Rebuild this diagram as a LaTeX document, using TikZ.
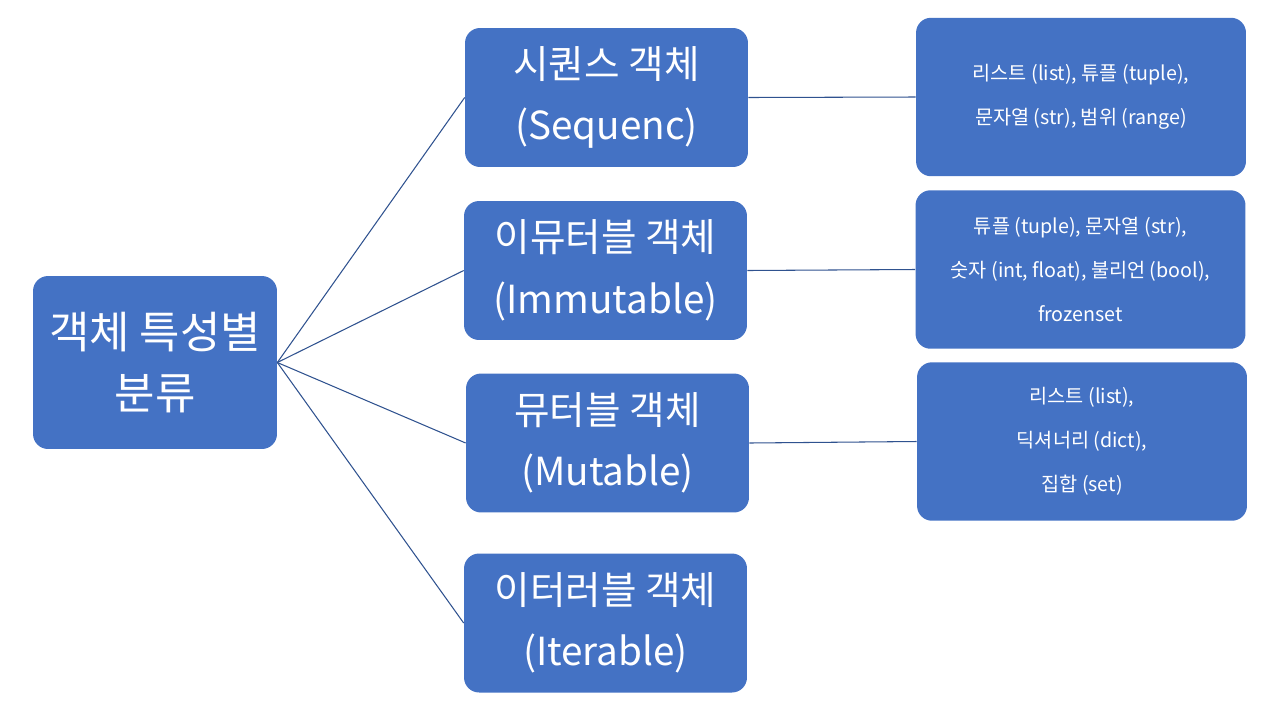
\documentclass[tikz,border=0pt]{standalone}
\usepackage{fontspec}
\setmainfont{Noto Sans CJK KR}
\usetikzlibrary{positioning}
\definecolor{boxblue}{HTML}{4472C4}
\definecolor{lineblue}{HTML}{2F528F}

\begin{document}
\begin{tikzpicture}
    [
    x=0.02cm, y=-0.02cm,
    box/.style={rectangle, rounded corners=0.3cm, fill=boxblue, text=white, align=center, inner sep=0pt},
    kind/.style={box, minimum width=5.66cm, minimum height=2.78cm, font=\fontsize{22}{35}\selectfont},
    examples/.style={box, minimum width=6.6cm, minimum height=3.17cm, font=\fontsize{11.2}{25}\selectfont},
    link/.style={draw=lineblue, line width=0.6pt}
    ]
    \useasboundingbox (0,0) rectangle (1280,707);
    \node (cls) at (155,362.5) [box, minimum width=4.88cm, minimum height=3.46cm, font=\fontsize{25}{35}\selectfont] {객체 특성별\\분류};
    \node (seq) at (606.5,97.5) [kind] {시퀀스 객체\\(Sequenc)};
    \node (imm) at (605.5,270.5) [kind] {이뮤터블 객체\\(Immutable)};
    \node (mut) at (607.5,443) [kind] {뮤터블 객체\\(Mutable)};
    \node (itr) at (605.5,623) [kind] {이터러블 객체\\(Iterable)};
    \node (seqex) at (1081,97) [examples] {리스트 (list), 튜플 (tuple),\\문자열 (str), 범위 (range)};
    \node (immex) at (1080.5,269.5) [examples] {튜플 (tuple), 문자열 (str),\\숫자 (int, float), 불리언 (bool),\\frozenset};
    \node (mutex) at (1082,441.5) [examples] {리스트 (list),\\딕셔너리 (dict),\\집합 (set)};
    \draw [link] (cls.east) to (seq.west);
    \draw [link] (cls.east) to (imm.west);
    \draw [link] (cls.east) to (mut.west);
    \draw [link] (cls.east) to (itr.west);
    \draw [link] (seq.east) to (seqex.west);
    \draw [link] (imm.east) to (immex.west);
    \draw [link] (mut.east) to (mutex.west);
  \end{tikzpicture}
\end{document}
